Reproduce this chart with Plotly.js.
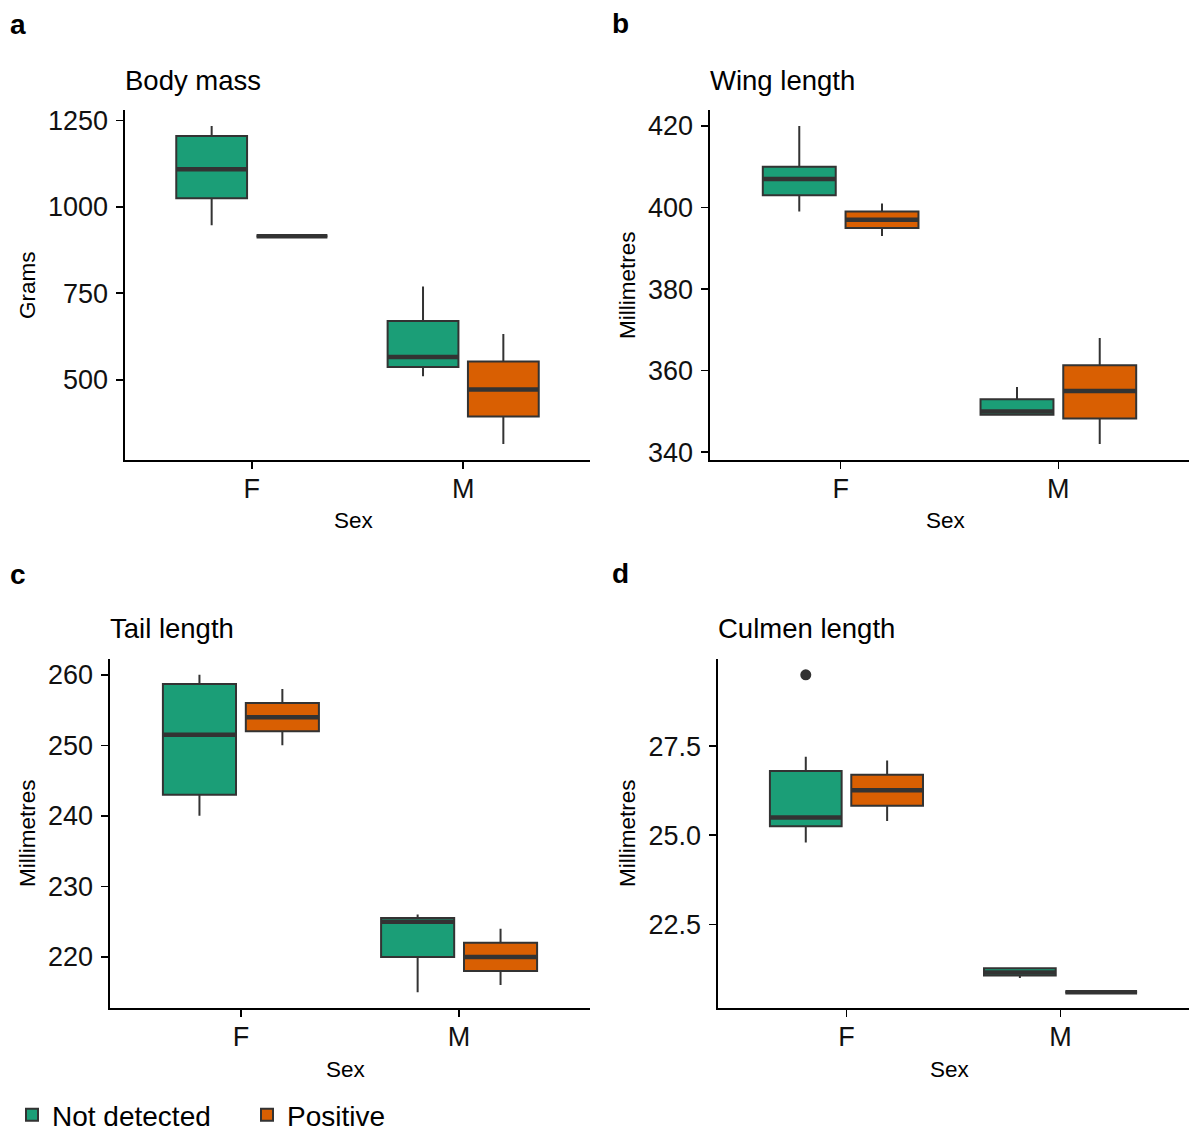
<!DOCTYPE html>
<html>
<head>
<meta charset="utf-8">
<script src="https://cdn.plot.ly/plotly-3.0.1.min.js"></script>
<style>
  body { margin: 0; background: #ffffff; }
  #plot { width: 1200px; height: 1133px; }
</style>
</head>
<body>
<div id="plot"></div>
<script>
// categories and groups
var sexes = ['F', 'M'];
var groups = ['Not detected', 'Positive'];

// a - body mass (grams)
var massLowND  = [947, 510],  massQ1ND  = [1025, 537], massMedND  = [1109, 566], massQ3ND  = [1205, 670], massHighND  = [1234, 770];
var massLowPos = [915, 314],  massQ1Pos = [915, 394],  massMedPos = [915, 472],  massQ3Pos = [915, 553],  massHighPos = [915, 632];

// b - wing length (mm)
var wingLowND  = [399, 349],  wingQ1ND  = [403, 349.2], wingMedND  = [407, 350], wingQ3ND  = [410, 353],   wingHighND  = [420, 356];
var wingLowPos = [393, 342],  wingQ1Pos = [395, 348.3], wingMedPos = [397, 355], wingQ3Pos = [399, 361.3], wingHighPos = [401, 368];

// c - tail length (mm)
var tailLowND  = [240, 215],  tailQ1ND  = [243, 220], tailMedND  = [251.5, 225], tailQ3ND  = [258.7, 225.5], tailHighND  = [260, 226];
var tailLowPos = [250, 216],  tailQ1Pos = [252, 218], tailMedPos = [254, 220],   tailQ3Pos = [256, 222],     tailHighPos = [258, 224];

// d - culmen length (mm)
var culLowND  = [24.8, 21.0],  culQ1ND  = [25.25, 21.07], culMedND  = [25.5, 21.15],  culQ3ND  = [26.8, 21.27], culHighND  = [27.2, 21.3];
var culLowPos = [25.4, 20.6],  culQ1Pos = [25.83, 20.6],  culMedPos = [26.26, 20.6],  culQ3Pos = [26.7, 20.6],  culHighPos = [27.1, 20.6];
var culOutlierND = [29.5, null];

var colors = ['#1B9E77', '#D95F02'];
var dodge = 0.19, boxW = 0.335;

var traces = [];

function addPanel(n, stats, outliers) {
    var xa = n == 1 ? 'x' : 'x' + n;
    var ya = n == 1 ? 'y' : 'y' + n;
    for (var g = 0; g < 2; g++) {
        var s = stats[g];
        var off = g == 0 ? -dodge : dodge;
        var xs = [];
        for (var i = 0; i < sexes.length; i++) xs.push(i + off);
        traces.push({
            type: 'box',
            name: groups[g],
            legendgroup: groups[g],
            showlegend: n == 1,
            x: xs,
            q1: s[1], median: s[2], q3: s[3],
            lowerfence: s[0], upperfence: s[4],
            width: boxW,
            whiskerwidth: 0,
            fillcolor: colors[g],
            line: {color: '#333333', width: 2},
            xaxis: xa, yaxis: ya,
            hoverinfo: 'y'
        });
        // thicker median like ggplot
        var mx = [], my = [];
        for (var i = 0; i < sexes.length; i++) {
            mx.push(xs[i] - boxW / 2, xs[i] + boxW / 2, null);
            my.push(s[2][i], s[2][i], null);
        }
        traces.push({
            type: 'scatter', mode: 'lines', x: mx, y: my,
            line: {color: '#333333', width: 4.5},
            showlegend: false, hoverinfo: 'skip',
            xaxis: xa, yaxis: ya
        });
    }
    if (outliers) {
        var ox = [], oy = [];
        for (var i = 0; i < sexes.length; i++) {
            if (outliers[i] != null) { ox.push(i - dodge); oy.push(outliers[i]); }
        }
        traces.push({
            type: 'scatter', mode: 'markers', x: ox, y: oy,
            marker: {color: '#333333', size: 11},
            showlegend: false, xaxis: xa, yaxis: ya
        });
    }
}

addPanel(1, [[massLowND, massQ1ND, massMedND, massQ3ND, massHighND], [massLowPos, massQ1Pos, massMedPos, massQ3Pos, massHighPos]]);
addPanel(2, [[wingLowND, wingQ1ND, wingMedND, wingQ3ND, wingHighND], [wingLowPos, wingQ1Pos, wingMedPos, wingQ3Pos, wingHighPos]]);
addPanel(3, [[tailLowND, tailQ1ND, tailMedND, tailQ3ND, tailHighND], [tailLowPos, tailQ1Pos, tailMedPos, tailQ3Pos, tailHighPos]]);
addPanel(4, [[culLowND, culQ1ND, culMedND, culQ3ND, culHighND], [culLowPos, culQ1Pos, culMedPos, culQ3Pos, culHighPos]], culOutlierND);

var W = 1200, H = 1133;
function px(v) { return v / W; }
function py(v) { return 1 - v / H; }

function xAxis(domL, domR, anchor) {
    return {
        domain: [px(domL), px(domR)], anchor: anchor,
        range: [-0.6, 1.6], tickvals: [0, 1], ticktext: sexes,
        showgrid: false, zeroline: false, showline: true,
        linecolor: '#000000', linewidth: 1.6,
        ticks: 'outside', ticklen: 7, tickwidth: 1.6, tickcolor: '#000000',
        tickfont: {size: 27, color: '#111111'}, ticklabelstandoff: -3,
        fixedrange: true
    };
}
function yAxis(top, bottom, anchor, range, tickvals, fmt) {
    return {
        domain: [py(bottom), py(top)], anchor: anchor,
        range: range, tickvals: tickvals, tickformat: fmt,
        showgrid: false, zeroline: false, showline: true,
        linecolor: '#000000', linewidth: 1.6,
        ticks: 'outside', ticklen: 7, tickwidth: 1.6, tickcolor: '#000000',
        tickfont: {size: 27, color: '#111111'}, ticklabelstandoff: 3,
        fixedrange: true
    };
}

var annots = [];
function label(text, x, y, opts) {
    var a = {text: text, x: px(x), y: py(y), xref: 'paper', yref: 'paper',
             showarrow: false, xanchor: 'left', yanchor: 'middle',
             font: {size: 26, color: '#000000'}};
    for (var k in opts) a[k] = opts[k];
    annots.push(a);
}
// panel letters
label('<b>a</b>', 8, 25, {font: {size: 28, color: '#000000'}});
label('<b>b</b>', 610, 24, {font: {size: 28, color: '#000000'}});
label('<b>c</b>', 8, 574, {font: {size: 28, color: '#000000'}});
label('<b>d</b>', 610, 573, {font: {size: 28, color: '#000000'}});
// panel titles
var tFont = {size: 27.5, color: '#000000'};
label('Body mass', 123, 80, {font: tFont});
label('Wing length', 708, 80, {font: tFont});
label('Tail length', 108, 628, {font: tFont});
label('Culmen length', 716, 628, {font: tFont});
// axis titles
var axFont = {size: 22.5, color: '#000000'};
label('Sex', 354, 520, {xanchor: 'center', font: axFont});
label('Sex', 946, 520, {xanchor: 'center', font: axFont});
label('Sex', 346, 1069, {xanchor: 'center', font: axFont});
label('Sex', 950, 1069, {xanchor: 'center', font: axFont});
label('Grams', 27, 285, {xanchor: 'center', textangle: -90, font: axFont});
label('Millimetres', 627, 285, {xanchor: 'center', textangle: -90, font: axFont});
label('Millimetres', 27, 833, {xanchor: 'center', textangle: -90, font: axFont});
label('Millimetres', 627, 833, {xanchor: 'center', textangle: -90, font: axFont});

var layout = {
    width: W, height: H,
    margin: {l: 0, r: 0, t: 0, b: 0, autoexpand: false},
    paper_bgcolor: '#ffffff', plot_bgcolor: '#ffffff',
    font: {family: 'Liberation Sans, Arial, sans-serif', color: '#000000'},
    boxmode: 'overlay',
    showlegend: true,
    legend: {
        orientation: 'h', x: px(12), xanchor: 'left', y: py(1115), yanchor: 'middle',
        font: {size: 28, color: '#000000'}, bgcolor: 'rgba(0,0,0,0)',
        itemwidth: 30, tracegroupgap: 0, entrywidth: 190
    },
    xaxis:  xAxis(125, 590, 'y'),
    yaxis:  yAxis(110, 460, 'x', [268, 1280], [500, 750, 1000, 1250]),
    xaxis2: xAxis(710, 1189, 'y2'),
    yaxis2: yAxis(110, 460, 'x2', [338.1, 423.9], [340, 360, 380, 400, 420]),
    xaxis3: xAxis(110, 590, 'y3'),
    yaxis3: yAxis(659, 1008, 'x3', [212.75, 262.25], [220, 230, 240, 250, 260]),
    xaxis4: xAxis(718, 1189, 'y4'),
    yaxis4: yAxis(659, 1008, 'x4', [20.155, 29.945], [22.5, 25, 27.5], '.1f'),
    annotations: annots
};

Plotly.newPlot('plot', traces, layout, {displayModeBar: false, staticPlot: true});
</script>
</body>
</html>
